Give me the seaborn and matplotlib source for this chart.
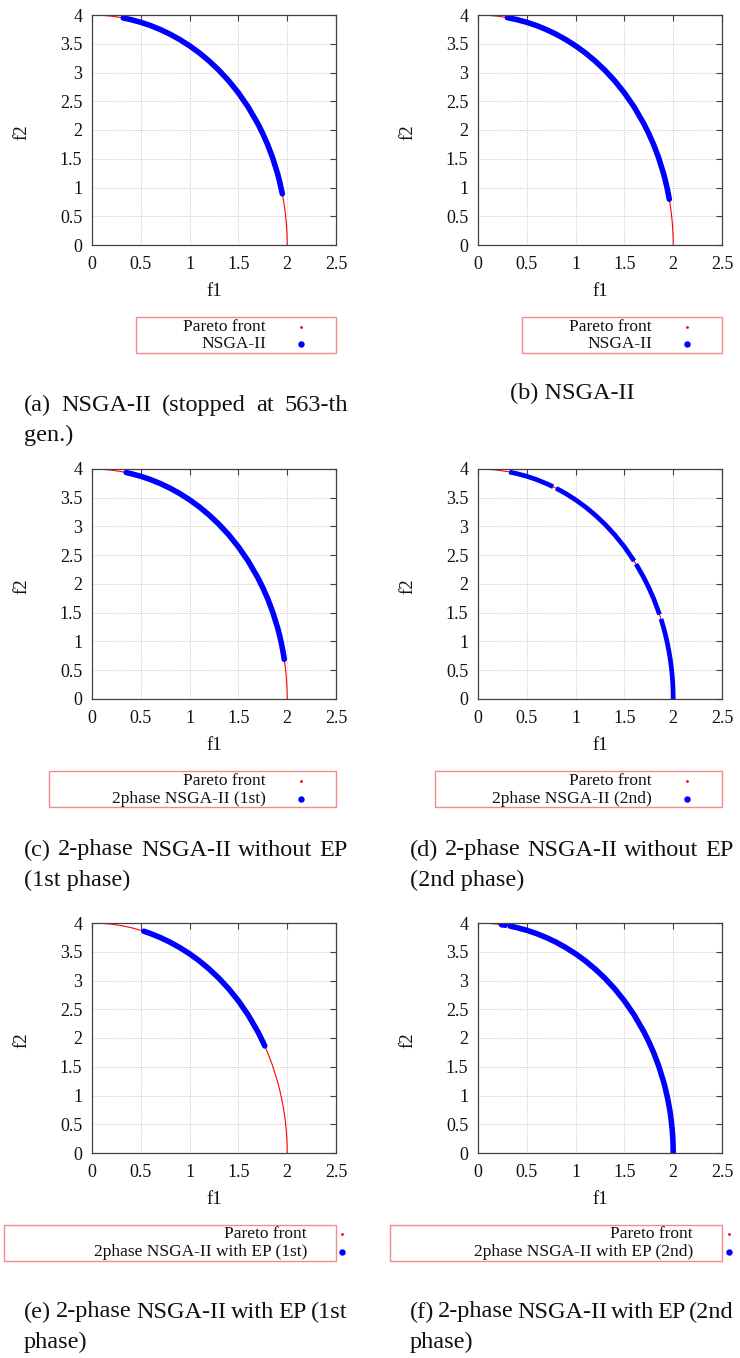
import numpy as np
import pandas as pd
import matplotlib
matplotlib.use("Agg")
import matplotlib.pyplot as plt
import seaborn as sns
from matplotlib.patches import Rectangle
from matplotlib.lines import Line2D

# ---------------- data ----------------
pareto_f1 = [0.00, 0.10, 0.20, 0.30, 0.40, 0.50, 0.60, 0.70, 0.80, 0.90, 1.00, 1.10, 1.20,
             1.30, 1.40, 1.50, 1.60, 1.70, 1.75, 1.80, 1.85, 1.90, 1.92, 1.94, 1.96, 1.97,
             1.98, 1.99, 1.995, 1.999, 2.00]
pareto_f2 = [4.000, 3.995, 3.980, 3.955, 3.919, 3.873, 3.816, 3.747, 3.666, 3.572, 3.464, 3.341, 3.200,
             3.040, 2.857, 2.646, 2.400, 2.107, 1.936, 1.744, 1.520, 1.249, 1.120, 0.972, 0.796, 0.690,
             0.564, 0.399, 0.283, 0.126, 0.000]

a_f1 = [0.32, 0.40, 0.50, 0.60, 0.70, 0.80, 0.90, 1.00, 1.10, 1.20, 1.30, 1.40, 1.50, 1.60,
        1.70, 1.75, 1.80, 1.85, 1.90, 1.92, 1.95]
a_f2 = [3.948, 3.919, 3.873, 3.816, 3.747, 3.666, 3.572, 3.464, 3.341, 3.200, 3.040, 2.857, 2.646, 2.400,
        2.107, 1.936, 1.744, 1.520, 1.249, 1.120, 0.890]

b_f1 = [0.30, 0.40, 0.50, 0.60, 0.70, 0.80, 0.90, 1.00, 1.10, 1.20, 1.30, 1.40, 1.50, 1.60,
        1.70, 1.75, 1.80, 1.85, 1.90, 1.92, 1.94, 1.96]
b_f2 = [3.955, 3.919, 3.873, 3.816, 3.747, 3.666, 3.572, 3.464, 3.341, 3.200, 3.040, 2.857, 2.646, 2.400,
        2.107, 1.936, 1.744, 1.520, 1.249, 1.120, 0.972, 0.796]

c_f1 = [0.35, 0.40, 0.50, 0.60, 0.70, 0.80, 0.90, 1.00, 1.10, 1.20, 1.30, 1.40, 1.50, 1.60,
        1.70, 1.75, 1.80, 1.85, 1.90, 1.92, 1.94, 1.96, 1.97]
c_f2 = [3.938, 3.919, 3.873, 3.816, 3.747, 3.666, 3.572, 3.464, 3.341, 3.200, 3.040, 2.857, 2.646, 2.400,
        2.107, 1.936, 1.744, 1.520, 1.249, 1.120, 0.972, 0.796, 0.690]

d_f1 = [0.32, 0.40, 0.50, 0.60, 0.70, 0.77,
        0.80, 0.90, 1.00, 1.10, 1.20, 1.30, 1.40, 1.50, 1.60,
        1.62, 1.70, 1.75, 1.80, 1.86,
        1.875, 1.90, 1.92, 1.94, 1.96, 1.97, 1.98, 1.99, 1.995, 1.999, 2.00]
d_f2 = [3.948, 3.919, 3.873, 3.816, 3.747, 3.692,
        3.666, 3.572, 3.464, 3.341, 3.200, 3.040, 2.857, 2.646, 2.400,
        2.346, 2.107, 1.936, 1.744, 1.470,
        1.392, 1.249, 1.120, 0.972, 0.796, 0.690, 0.564, 0.399, 0.283, 0.126, 0.000]
d_seg = [1] * 6 + [2] * 9 + [3] * 5 + [4] * 11

e_f1 = [0.53, 0.60, 0.70, 0.80, 0.90, 1.00, 1.10, 1.20, 1.30, 1.40, 1.50, 1.60, 1.70, 1.75, 1.77]
e_f2 = [3.857, 3.816, 3.747, 3.666, 3.572, 3.464, 3.341, 3.200, 3.040, 2.857, 2.646, 2.400, 2.107, 1.936, 1.862]

f_f1 = [0.24, 0.28,
        0.33, 0.40, 0.50, 0.60, 0.70, 0.80, 0.90, 1.00, 1.10, 1.20, 1.30, 1.40, 1.50, 1.60,
        1.70, 1.75, 1.80, 1.85, 1.90, 1.92, 1.94, 1.96, 1.97, 1.98, 1.99, 1.995, 1.999, 2.00]
f_f2 = [3.971, 3.961,
        3.945, 3.919, 3.873, 3.816, 3.747, 3.666, 3.572, 3.464, 3.341, 3.200, 3.040, 2.857, 2.646, 2.400,
        2.107, 1.936, 1.744, 1.520, 1.249, 1.120, 0.972, 0.796, 0.690, 0.564, 0.399, 0.283, 0.126, 0.000]
f_seg = [1] * 2 + [2] * 28

series_labels = ["NSGA-II", "NSGA-II", "2phase NSGA-II (1st)", "2phase NSGA-II (2nd)",
                 "2phase NSGA-II with EP (1st)", "2phase NSGA-II with EP (2nd)"]
front_label = "Pareto front"
captions = [
    ["(a) NSGA-II (stopped at 563-th", "gen.)"],
    ["(b) NSGA-II"],
    ["(c) 2-phase NSGA-II without EP", "(1st phase)"],
    ["(d) 2-phase NSGA-II without EP", "(2nd phase)"],
    ["(e) 2-phase NSGA-II with EP (1st", "phase)"],
    ["(f) 2-phase NSGA-II with EP (2nd", "phase)"],
]
x_ticks = [0, 0.5, 1, 1.5, 2, 2.5]
x_tick_labels = ["0", "0.5", "1", "1.5", "2", "2.5"]
y_ticks = [0, 0.5, 1, 1.5, 2, 2.5, 3, 3.5, 4]
y_tick_labels = ["0", "0.5", "1", "1.5", "2", "2.5", "3", "3.5", "4"]

# ---------------- style ----------------
sns.set_style("white")
plt.rcParams["font.family"] = ["Liberation Serif", "DejaVu Serif"]

W, H = 740, 1358
fig = plt.figure(figsize=(W / 100, H / 100), dpi=100)


def fx(x):
    return x / W


def fy(y):
    return 1 - y / H


col_left = [92, 478]
row_top = [15, 469, 923]
AW, AH = 244, 230

blue_sets = [
    pd.DataFrame({"f1": a_f1, "f2": a_f2, "seg": [1] * len(a_f1)}),
    pd.DataFrame({"f1": b_f1, "f2": b_f2, "seg": [1] * len(b_f1)}),
    pd.DataFrame({"f1": c_f1, "f2": c_f2, "seg": [1] * len(c_f1)}),
    pd.DataFrame({"f1": d_f1, "f2": d_f2, "seg": d_seg}),
    pd.DataFrame({"f1": e_f1, "f2": e_f2, "seg": [1] * len(e_f1)}),
    pd.DataFrame({"f1": f_f1, "f2": f_f2, "seg": f_seg}),
]
front_df = pd.DataFrame({"f1": pareto_f1, "f2": pareto_f2})

# legend geometry: (box x0, box x1, box y0, box y1, text right x, marker x, row1 y, row2 y)
legend_geo = [
    (136, 336, 317, 353, 266, 301, 327, 344),
    (522, 722, 317, 353, 652, 687, 327, 344),
    (49, 336, 771, 807, 266, 301, 781, 799),
    (435, 722, 771, 807, 652, 687, 781, 799),
    (4, 336, 1225, 1261, 307, 342, 1234, 1252),
    (390, 722, 1225, 1261, 693, 729, 1234, 1252),
]
# caption geometry: (x0, x1, first line y, line spacing, justified)
caption_geo = [
    (24, 348, 405, 30, True),
    (572, 572, 393, 30, False),
    (24, 348, 850, 30, True),
    (410, 734, 850, 30, True),
    (24, 348, 1312, 30, True),
    (410, 734, 1312, 30, True),
]

spine_col = "#404040"
for i in range(6):
    r, c = divmod(i, 2)
    left = col_left[c]
    top = row_top[r]
    ax = fig.add_axes([fx(left), fy(top + AH), AW / W, AH / H])
    sns.lineplot(data=front_df, x="f1", y="f2", sort=False, estimator=None,
                 color="red", lw=0.8, ax=ax, legend=False)
    cap = "butt" if i == 3 else "round"
    sns.lineplot(data=blue_sets[i], x="f1", y="f2", units="seg", sort=False, estimator=None,
                 color="#0000ff", lw=4.0 if i != 3 else 3.4, ax=ax, legend=False,
                 solid_capstyle=cap)
    ax.set_xlim(0, 2.5)
    ax.set_ylim(0, 4)
    ax.set_xticks(x_ticks, labels=x_tick_labels)
    ax.set_yticks(y_ticks, labels=y_tick_labels)
    ax.grid(True, ls=(0, (1, 1.5)), color="#bdbdbd", lw=0.6)
    ax.set_axisbelow(True)
    ax.tick_params(direction="in", top=True, right=True, length=4, width=0.8,
                   color=spine_col, labelsize=13, labelcolor="#111111")
    ax.tick_params(axis="x", pad=8)
    ax.tick_params(axis="y", pad=7)
    for s in ax.spines.values():
        s.set_color(spine_col)
        s.set_linewidth(0.9)
    ax.set_xlabel("f1", fontsize=13.5, color="#111111")
    ax.set_ylabel("f2", fontsize=13.5, color="#111111")
    ax.xaxis.label.set_va("center")
    ax.yaxis.label.set_va("center")
    # f1 centre 47 px below the axes, f2 centre 70 px left of the axes, 117 px below top
    ax.xaxis.set_label_coords(0.5, -47 / AH)
    ax.yaxis.set_label_coords(-70 / AW, 1 - 117 / AH)

    # legend box (gnuplot style: right-justified text, sample on the right)
    bx0, bx1, by0, by1, tx, mx, ry1, ry2 = legend_geo[i]
    fig.add_artist(Rectangle((fx(bx0), fy(by1)), (bx1 - bx0) / W, (by1 - by0) / H,
                             transform=fig.transFigure, fill=False,
                             edgecolor="#f08c8c", lw=1.0))
    fig.text(fx(tx), fy(ry1), front_label, ha="right", va="center", fontsize=12.5, color="#111111")
    fig.text(fx(tx), fy(ry2), series_labels[i], ha="right", va="center", fontsize=12.5, color="#111111")
    fig.add_artist(Line2D([fx(mx)], [fy(ry1)], transform=fig.transFigure, marker="o",
                          markersize=1.0, color="red", ls="none"))
    fig.add_artist(Line2D([fx(mx)], [fy(ry2)], transform=fig.transFigure, marker="o",
                          markersize=3.6, color="#0000ff", ls="none"))

# captions
fig.canvas.draw()
renderer = fig.canvas.get_renderer()
CAP_FS = 17.5


def text_width_px(s):
    t = fig.text(0, 0, s, fontsize=CAP_FS)
    w = t.get_window_extent(renderer=renderer).width
    t.remove()
    return w


for i in range(6):
    x0, x1, y0, dy, just = caption_geo[i]
    lines = captions[i]
    for k, line in enumerate(lines):
        y = y0 + k * dy
        if not just:
            fig.text(fx(x0), fy(y), line, ha="center", va="center", fontsize=CAP_FS, color="#111111")
            continue
        if k == 0 and len(lines) > 1:
            words = line.split(" ")
            widths = [text_width_px(wd) for wd in words]
            gap = (x1 - x0 - sum(widths)) / (len(words) - 1)
            xx = x0
            for wd, wpx in zip(words, widths):
                fig.text(fx(xx), fy(y), wd, ha="left", va="center", fontsize=CAP_FS, color="#111111")
                xx += wpx + gap
        else:
            fig.text(fx(x0), fy(y), line, ha="left", va="center", fontsize=CAP_FS, color="#111111")

fig.savefig("out.png", dpi=100)
